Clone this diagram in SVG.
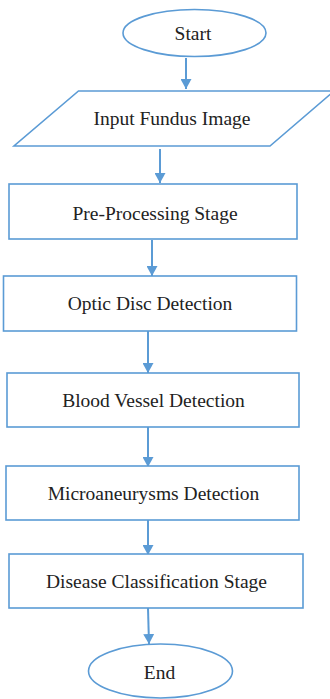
<svg xmlns="http://www.w3.org/2000/svg" width="330" height="699" viewBox="0 0 330 699">
<defs>
<style>
.shape{fill:#ffffff;stroke:#5B9BD5;stroke-width:1.6}
.lbl{font-family:"Liberation Serif","Times New Roman",serif;font-size:19.5px;fill:#222222;text-anchor:middle}
.conn{stroke:#5B9BD5;stroke-width:2;fill:none;marker-end:url(#arrow)}
</style>
<marker id="arrow" markerUnits="userSpaceOnUse" markerWidth="12" markerHeight="11" refX="10" refY="5.5" orient="auto">
<path d="M0,0 L10,5.5 L0,11 Z" fill="#5B9BD5"/>
</marker>
</defs>
<rect width="330" height="699" fill="#ffffff"/>
<g id="connectors">
<line class="conn" x1="186" y1="58" x2="186" y2="89"/>
<line class="conn" x1="160" y1="149" x2="160" y2="183"/>
<line class="conn" x1="152" y1="240" x2="152" y2="276"/>
<line class="conn" x1="148" y1="331" x2="148" y2="373"/>
<line class="conn" x1="148" y1="427" x2="148" y2="467"/>
<line class="conn" x1="148" y1="520" x2="148" y2="555"/>
<line class="conn" x1="148" y1="608" x2="149" y2="644"/>
</g>
<g id="start">
<ellipse class="shape" cx="194.5" cy="33" rx="71.5" ry="23.5"/>
<text class="lbl" x="193" y="40">Start</text>
</g>
<g id="input">
<polygon class="shape" points="78.5,91 334,91 270,146 14,146"/>
<text class="lbl" x="172" y="124.5">Input Fundus Image</text>
</g>
<g id="preprocessing">
<rect class="shape" x="9" y="184" width="288" height="55"/>
<text class="lbl" x="155" y="220">Pre-Processing Stage</text>
</g>
<g id="opticdisc">
<rect class="shape" x="3.5" y="276" width="293" height="55"/>
<text class="lbl" x="150" y="310">Optic Disc Detection</text>
</g>
<g id="bloodvessel">
<rect class="shape" x="7" y="373" width="292" height="54"/>
<text class="lbl" x="153.5" y="407">Blood Vessel Detection</text>
</g>
<g id="microaneurysms">
<rect class="shape" x="6" y="466" width="293" height="54"/>
<text class="lbl" x="153.5" y="500">Microaneurysms Detection</text>
</g>
<g id="classification">
<rect class="shape" x="9" y="554" width="294" height="54"/>
<text class="lbl" x="156.5" y="588">Disease Classification Stage</text>
</g>
<g id="end">
<ellipse class="shape" cx="160.5" cy="671" rx="72" ry="27"/>
<text class="lbl" x="159.5" y="679">End</text>
</g>
</svg>
